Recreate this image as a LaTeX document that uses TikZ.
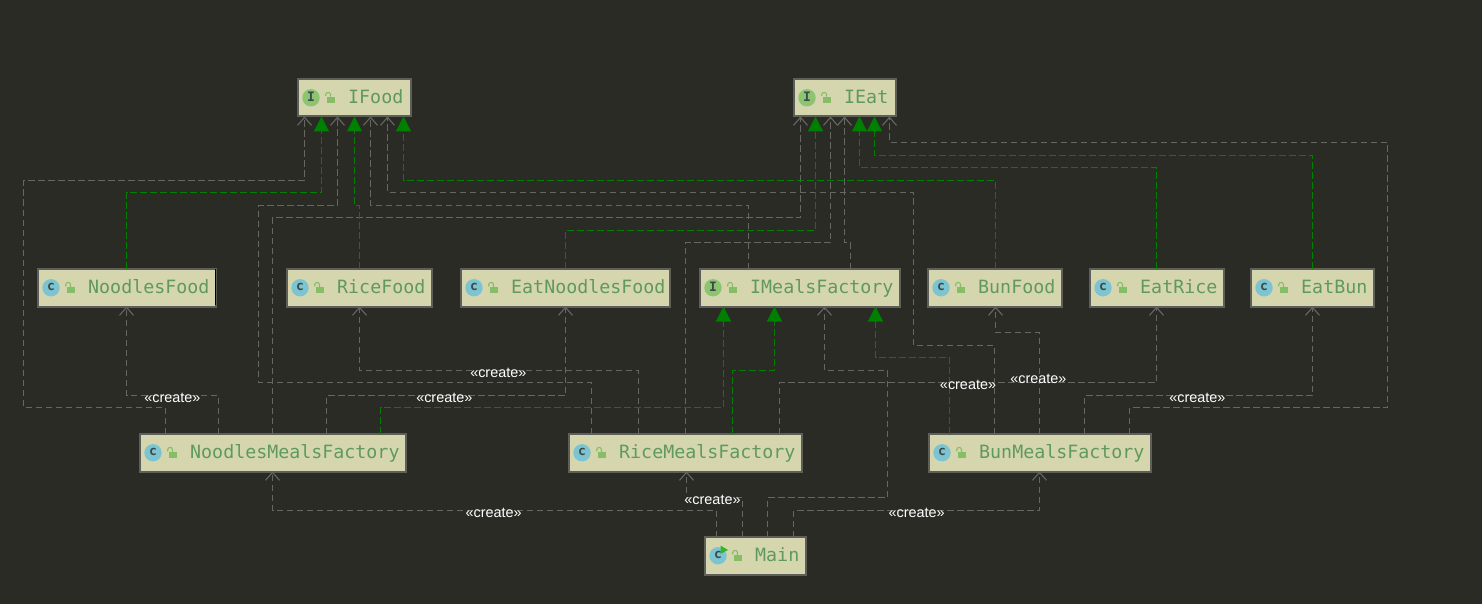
\documentclass[tikz,border=0pt]{standalone}
\usepackage{fontspec}
\setmainfont{Liberation Sans}
\newfontfamily\monof{DejaVu Sans Mono}
\usetikzlibrary{arrows.meta}
\definecolor{bgc}{HTML}{2A2B25}
\definecolor{boxc}{HTML}{D6D6AE}
\definecolor{edgec}{HTML}{5E5F5A}
\definecolor{txtc}{HTML}{5F9A5C}
\definecolor{graylc}{HTML}{666663}
\definecolor{greenlc}{HTML}{008000}
\definecolor{clsc}{HTML}{7CC4D2}
\definecolor{ifc}{HTML}{8DC470}
\definecolor{lockc}{HTML}{86BE68}
\definecolor{letc}{HTML}{3C4A4A}
\tikzset{
  umlbox/.style={draw=edgec,fill=boxc,line width=2pt,inner sep=0pt,outer sep=0pt},
  umltext/.style={anchor=base west,inner sep=0pt,text=txtc,font=\monof\fontsize{18.3}{20}\selectfont},
  deplink/.style={draw=graylc,line width=1.1pt,dash pattern=on 6.5pt off 3.5pt,-{Straight Barb[length=8pt,width=14pt,line width=1.1pt]}},
  implink/.style={draw=greenlc,line width=1.2pt,dash pattern=on 7pt off 3pt,-{Triangle[length=15pt,width=15pt,fill=greenlc]}},
  createlab/.style={text=white,inner sep=0pt,font=\fontsize{14.4}{16}\selectfont},
  iconletter/.style={inner sep=0pt,text=letc,font=\monof\bfseries\fontsize{13}{13}\selectfont}
}
\newcommand{\umlnode}[7]{%
  \pgfmathsetmacro{\bw}{#3-#2-1.5}\pgfmathsetmacro{\bh}{#5-#4}%
  \pgfmathsetmacro{\cx}{(#2+#3)/2+0.25}\pgfmathsetmacro{\cy}{(#4+#5)/2}%
  \pgfmathsetmacro{\ix}{#2+14}\pgfmathsetmacro{\lx}{#2+30}%
  \node[umlbox,minimum width=\bw pt,minimum height=\bh pt] (#1) at (\cx,\cy) {};
  \fill[#7] (\ix,\cy) circle (8.7pt);
  \node[iconletter] at (\ix,\cy-0.5) {#6};
  \fill[lockc] (\lx,\cy-1) rectangle ++(8,6.5);
  \draw[lockc,line width=1.1pt] (\lx+3.5,\cy-1) -- (\lx+3.5,\cy-3) arc[start angle=0,end angle=180,radius=2.4pt] -- ++(0,1.5);
}
\begin{document}
\begin{tikzpicture}[x=1pt,y=-1pt]
\useasboundingbox (0,0) rectangle (1482,604);
\fill[bgc] (0,0) rectangle (1482,604);
\newcommand{\umltxt}[4]{\node[umltext] (#1) at (#2+51,#3+25.5) {#4};}
\umlnode{ifood}{297}{411}{79}{116.5}{I}{ifc}
\umltxt{ifoodt}{297}{78}{IFood}
\umlnode{ieat}{793}{896}{79}{116.5}{I}{ifc}
\umltxt{ieatt}{793}{78}{IEat}
\umlnode{nfood}{37}{216}{269}{306.5}{c}{clsc}
\umltxt{nfoodt}{37}{268}{NoodlesFood}
\umlnode{rfood}{286}{432}{269}{306.5}{c}{clsc}
\umltxt{rfoodt}{286}{268}{RiceFood}
\umlnode{enfood}{460}{670}{269}{306.5}{c}{clsc}
\umltxt{enfoodt}{460}{268}{EatNoodlesFood}
\umlnode{imf}{699}{900}{269}{306.5}{I}{ifc}
\umltxt{imft}{699}{268}{IMealsFactory}
\umlnode{bfood}{927}{1062}{269}{306.5}{c}{clsc}
\umltxt{bfoodt}{927}{268}{BunFood}
\umlnode{erice}{1089}{1224}{269}{306.5}{c}{clsc}
\umltxt{ericet}{1089}{268}{EatRice}
\umlnode{ebun}{1250}{1374}{269}{306.5}{c}{clsc}
\umltxt{ebunt}{1250}{268}{EatBun}
\umlnode{nmf}{139}{406}{434}{471.5}{c}{clsc}
\umltxt{nmft}{139}{433}{NoodlesMealsFactory}
\umlnode{rmf}{568}{802}{434}{471.5}{c}{clsc}
\umltxt{rmft}{568}{433}{RiceMealsFactory}
\umlnode{bmf}{928}{1151}{434}{471.5}{c}{clsc}
\umltxt{bmft}{928}{433}{BunMealsFactory}
\umlnode{mainc}{704}{806}{537}{574.5}{c}{clsc}
\umltxt{mainct}{704}{536}{Main}
\fill[green!55!ifc!80!black] (720.5,545.5) -- (728,550) -- (720.5,554) -- cycle;
\draw[black,line width=1pt] (215.5,269) -- (215.5,305);
\begin{scope}[shift={(0.5,0.5)}]
% dependencies to the interfaces
\draw[deplink] (165,0 |- nmf.north) -- (165,407) -- (23,407) -- (23,180) -- (304,180) -- (304,0 |- ifood.south);
\draw[deplink] (591,0 |- rmf.north) -- (591,382) -- (258,382) -- (258,205) -- (337,205) -- (337,0 |- ifood.south);
\draw[deplink] (748,0 |- imf.north) -- (748,205) -- (370,205) -- (370,0 |- ifood.south);
\draw[deplink] (994,0 |- bmf.north) -- (994,345) -- (913,345) -- (913,192) -- (387,192) -- (387,0 |- ifood.south);
\draw[deplink] (272,0 |- nmf.north) -- (272,217) -- (800,217) -- (800,0 |- ieat.south);
\draw[deplink] (685,0 |- rmf.north) -- (685,242) -- (830,242) -- (830,0 |- ieat.south);
\draw[deplink] (850,0 |- imf.north) -- (850,242) -- (844,242) -- (844,0 |- ieat.south);
\draw[deplink] (1129,0 |- bmf.north) -- (1129,407) -- (1387,407) -- (1387,142) -- (889,142) -- (889,0 |- ieat.south);
% create links
\draw[deplink] (218,0 |- nmf.north) -- (218,395) -- (126,395) -- (126,0 |- nfood.south);
\draw[deplink] (638,0 |- rmf.north) -- (638,370) -- (359,370) -- (359,0 |- rfood.south);
\draw[deplink] (326,0 |- nmf.north) -- (326,395) -- (565,395) -- (565,0 |- enfood.south);
\draw[deplink] (767,0 |- mainc.north) -- (767,497) -- (887,497) -- (887,370) -- (824,370) -- (824,0 |- imf.south);
\draw[deplink] (1039,0 |- bmf.north) -- (1039,332) -- (995,332) -- (995,0 |- bfood.south);
\draw[deplink] (779,0 |- rmf.north) -- (779,382) -- (1156,382) -- (1156,0 |- erice.south);
\draw[deplink] (1084,0 |- bmf.north) -- (1084,395) -- (1312,395) -- (1312,0 |- ebun.south);
\draw[deplink] (716,0 |- mainc.north) -- (716,510) -- (272,510) -- (272,0 |- nmf.south);
\draw[deplink] (742,0 |- mainc.north) -- (742,497) -- (686,497) -- (686,0 |- rmf.south);
\draw[deplink] (793,0 |- mainc.north) -- (793,510) -- (1039,510) -- (1039,0 |- bmf.south);
% realisation links
\draw[implink] (126,0 |- nfood.north) -- (126,192) -- (321,192) -- (321,0 |- ifood.south);
\draw[implink] (359,0 |- rfood.north) -- (359,205) -- (354,205) -- (354,0 |- ifood.south);
\draw[implink] (565,0 |- enfood.north) -- (565,230) -- (815,230) -- (815,0 |- ieat.south);
\draw[implink] (995,0 |- bfood.north) -- (995,180) -- (403,180) -- (403,0 |- ifood.south);
\draw[implink] (1156,0 |- erice.north) -- (1156,167) -- (859,167) -- (859,0 |- ieat.south);
\draw[implink] (1312,0 |- ebun.north) -- (1312,155) -- (874,155) -- (874,0 |- ieat.south);
\draw[implink] (380,0 |- nmf.north) -- (380,407) -- (723,407) -- (723,0 |- imf.south);
\draw[implink] (732,0 |- rmf.north) -- (732,370) -- (774,370) -- (774,0 |- imf.south);
\draw[implink] (949,0 |- bmf.north) -- (949,357) -- (875,357) -- (875,0 |- imf.south);
\end{scope}
% labels
\node[createlab] (l1) at (172.4,398) {«create»};
\node[createlab] (l2) at (498.3,373) {«create»};
\node[createlab] (l3) at (444.3,398) {«create»};
\node[createlab] (l4) at (968,385) {«create»};
\node[createlab] (l5) at (1038.4,379) {«create»};
\node[createlab] (l6) at (1197.4,398) {«create»};
\node[createlab] (l7) at (493.7,513) {«create»};
\node[createlab] (l8) at (712.5,500) {«create»};
\node[createlab] (l9) at (916.7,513) {«create»};
\end{tikzpicture}
\end{document}
